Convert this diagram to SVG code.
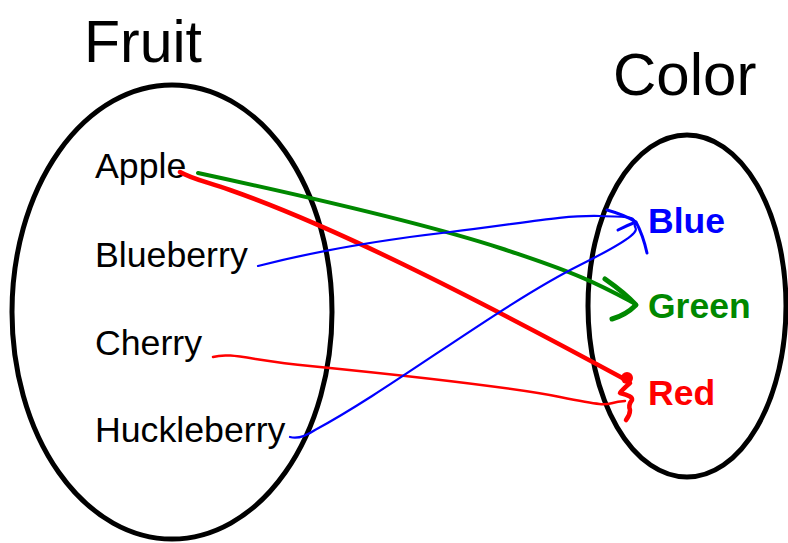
<svg xmlns="http://www.w3.org/2000/svg" width="788" height="543" viewBox="0 0 788 543">
<style>
.set{fill:none;stroke:#000;stroke-width:5}
.title{font-family:"Liberation Sans",Arial,sans-serif;font-size:59px;fill:#000}
.item{font-family:"Liberation Sans",Arial,sans-serif;font-size:35.7px;fill:#000}
.col{font-family:"Liberation Sans",Arial,sans-serif;font-size:35.5px;font-weight:bold}
.c{fill:none;stroke-linecap:round;stroke-linejoin:round}
</style>
<rect width="788" height="543" fill="#fff"/>
<g id="fruit">
<ellipse class="set" cx="172" cy="312" rx="160" ry="227"/>
<text class="title" x="84" y="62">Fruit</text>
<text class="item" x="95" y="178">Apple</text>
<text class="item" x="95" y="267">Blueberry</text>
<text class="item" x="95" y="355">Cherry</text>
<text class="item" x="95" y="442">Huckleberry</text>
</g>
<g id="color">
<ellipse class="set" cx="687" cy="306" rx="99" ry="171"/>
<text class="title" x="613" y="95" style="font-size:60px">Color</text>
<text class="col" x="648" y="233" fill="#0000ff">Blue</text>
<text class="col" x="648" y="318" fill="#008800">Green</text>
<text class="col" x="648" y="405" fill="#ff0000">Red</text>
</g>
<g id="connectors">
<path class="c" stroke="#008800" stroke-width="4" d="M198,173 C300,195 420,222 500,248 S600,285 632,302"/>
<path class="c" stroke="#008800" stroke-width="5" d="M605,279 Q625,293 636,305 Q626,315 612,319"/>
<path class="c" stroke="#ff0000" stroke-width="4.5" d="M180,172 C190,178 200,180 230,190 C330,225 460,290 628,381"/>
<circle cx="627" cy="378" r="6" fill="#ff0000"/>
<path class="c" stroke="#ff0000" stroke-width="4.5" d="M630,383 Q622,390 620,393 Q633,396 632,400 Q628,405 630,410 Q630,415 626,420"/>
<path class="c" stroke="#ff0000" stroke-width="2.5" d="M213,357 C230,352 250,360 310,366 S500,385 560,397 S600,403 625,401"/>
<path class="c" stroke="#0000ff" stroke-width="2.2" d="M258,266 C320,250 380,240 450,232 S560,215 600,216 S630,218 636,222"/>
<path class="c" stroke="#0000ff" stroke-width="2.2" d="M290,437 Q300,440 315,430 C390,390 500,305 580,265 S628,230 636,223"/>
<path class="c" stroke="#0000ff" stroke-width="3" d="M607,210 Q625,215 636,222 Q643,235 647,253 M618,230 Q628,225 636,222"/>
</g>
</svg>
